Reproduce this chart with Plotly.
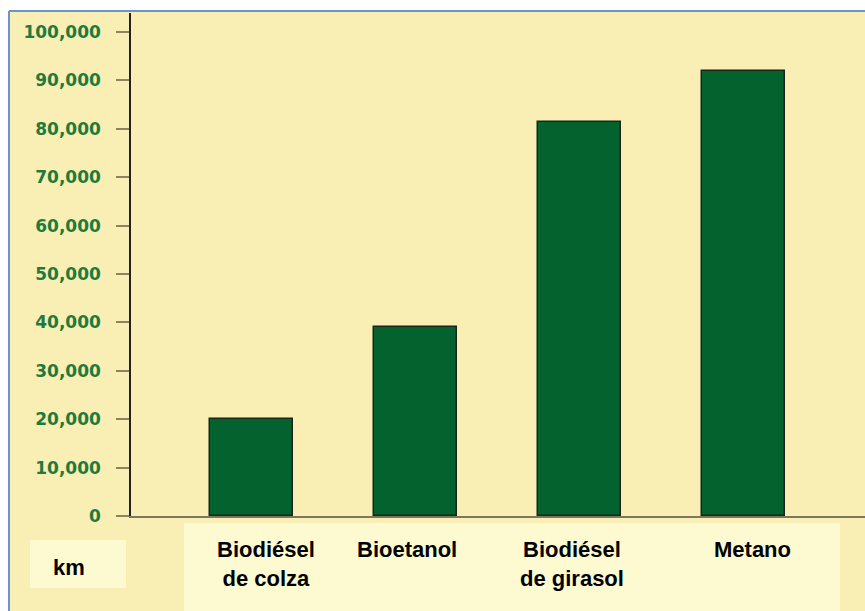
import plotly.graph_objects as go

# ---- data ----
categories = ["Biodiésel<br>de colza", "Bioetanol", "Biodiésel<br>de girasol", "Metano"]
km_values = [20000, 39000, 81500, 92000]
y_tick_vals = [0, 10000, 20000, 30000, 40000, 50000, 60000, 70000, 80000, 90000, 100000]
y_tick_text = ["0", "10,000", "20,000", "30,000", "40,000", "50,000",
               "60,000", "70,000", "80,000", "90,000", "100,000"]
unit_label = "km"

# ---- style ----
W, H = 865, 611
L, R, T, B = 131, 0, 13, 95
PW, PH = W - L - R, H - T - B
label_xshift = [14, -8, -7, 9]

def px_x(p):
    return (p - L) / PW

def px_y(p):
    return (H - B - p) / PH

BG = "#F9EEB4"
BOX = "#FDFAD1"
BAR = "#04622F"
BLUE = "#6A93CF"
TICKGREEN = "#1F7A3D"
LABEL_FONT = dict(family="Liberation Sans, Arial, sans-serif", size=22, color="black")

fig = go.Figure()
fig.add_trace(go.Bar(
    x=list(range(len(categories))),
    y=km_values,
    width=0.51,
    marker=dict(color=BAR, line=dict(color="#1b261b", width=1.5)),
    hoverinfo="skip",
))

shapes = [
    dict(type="rect", xref="paper", yref="paper", layer="below",
         x0=px_x(9), x1=1.1, y0=-0.3, y1=px_y(11),
         fillcolor=BG, line=dict(width=0)),
    dict(type="rect", xref="paper", yref="paper", layer="below",
         x0=px_x(184), x1=px_x(840), y0=-0.3, y1=px_y(523),
         fillcolor=BOX, line=dict(width=0)),
    dict(type="rect", xref="paper", yref="paper", layer="below",
         x0=px_x(30), x1=px_x(126), y0=px_y(588), y1=px_y(540),
         fillcolor=BOX, line=dict(width=0)),
    dict(type="line", xref="paper", yref="paper", layer="below",
         x0=px_x(9), x1=1.1, y0=px_y(11), y1=px_y(11),
         line=dict(color=BLUE, width=2)),
    dict(type="line", xref="paper", yref="paper", layer="below",
         x0=px_x(9), x1=px_x(9), y0=-0.3, y1=px_y(11),
         line=dict(color=BLUE, width=2)),
]

annotations = [dict(
    text="<b>" + unit_label + "</b>", xref="paper", yref="paper",
    x=px_x(69), y=px_y(567), xanchor="center", yanchor="middle",
    showarrow=False, font=LABEL_FONT,
)]
for i, (cat, dx) in enumerate(zip(categories, label_xshift)):
    annotations.append(dict(
        text="<b>" + cat + "</b>", xref="x", yref="paper",
        x=i, y=px_y(535), xanchor="center", yanchor="top", xshift=dx,
        showarrow=False, font=LABEL_FONT,
    ))

fig.update_layout(
    width=W, height=H,
    margin=dict(l=L, r=R, t=T, b=B, pad=0),
    paper_bgcolor="white",
    plot_bgcolor="rgba(0,0,0,0)",
    showlegend=False,
    bargap=0,
    shapes=shapes,
    annotations=annotations,
    xaxis=dict(
        range=[-0.735, 3.742],
        showticklabels=False,
        ticks="",
        showgrid=False, zeroline=False,
        showline=True, linecolor="#7d7762", linewidth=2,
    ),
    yaxis=dict(
        range=[0, 100000 * PH / 484],
        tickmode="array",
        tickvals=y_tick_vals,
        ticktext=y_tick_text,
        tickfont=dict(family="DejaVu Sans, Verdana, sans-serif", size=17,
                      color=TICKGREEN, weight="bold"),
        ticks="outside", ticklen=13, tickwidth=2, tickcolor="#8B8462",
        ticklabelstandoff=12,
        showgrid=False, zeroline=False,
        showline=True, linecolor="#222222", linewidth=1.5,
    ),
)

fig.write_html("out.html",
               config={"displayModeBar": False},
               post_script="document.body.style.margin='0';document.body.style.overflow='hidden';")
